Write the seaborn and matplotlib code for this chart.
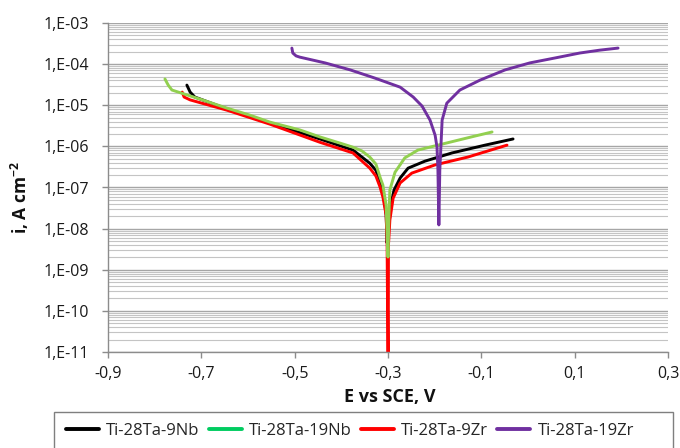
import numpy as np
import pandas as pd
import matplotlib
matplotlib.use("Agg")
import matplotlib.pyplot as plt
import seaborn as sns
from matplotlib.ticker import FixedLocator, FixedFormatter, LogLocator, NullFormatter
from matplotlib.lines import Line2D
from matplotlib.patches import Rectangle

# ---- data (current density stored as log10(i / A cm-2)) ----
series_names = ["Ti-28Ta-9Nb", "Ti-28Ta-19Nb", "Ti-28Ta-9Zr", "Ti-28Ta-19Zr"]

E_9Nb = [-0.731, -0.724, -0.714, -0.645, -0.553, -0.446, -0.375, -0.339, -0.326, -0.317,
         -0.309, -0.304, -0.302, -0.298, -0.294, -0.287, -0.274, -0.257, -0.221, -0.163,
         -0.092, -0.032]
logi_9Nb = [-4.51, -4.68, -4.80, -5.09, -5.43, -5.82, -6.09, -6.41, -6.58, -6.87,
            -7.18, -7.67, -8.35, -7.91, -7.43, -7.06, -6.77, -6.53, -6.36, -6.16,
            -5.97, -5.82]

E_19Nb = [-0.778, -0.771, -0.763, -0.703, -0.645, -0.596, -0.553, -0.489, -0.446, -0.403,
          -0.375, -0.356, -0.339, -0.326, -0.317, -0.311, -0.304, -0.300, -0.298, -0.296,
          -0.285, -0.264, -0.236, -0.193, -0.150, -0.114, -0.077]
logi_19Nb = [-4.36, -4.51, -4.63, -4.85, -5.07, -5.24, -5.41, -5.60, -5.77, -5.92,
             -6.02, -6.11, -6.26, -6.43, -6.75, -6.94, -7.43, -8.69, -7.67, -7.06,
             -6.63, -6.28, -6.09, -5.97, -5.85, -5.75, -5.65]

E_9Zr = [-0.741, -0.737, -0.724, -0.645, -0.553, -0.446, -0.375, -0.339, -0.326, -0.317,
         -0.311, -0.304, -0.302, -0.300, -0.2995, -0.299, -0.296, -0.289, -0.274, -0.249,
         -0.199, -0.129, -0.045]
logi_9Zr = [-4.68, -4.80, -4.87, -5.12, -5.46, -5.90, -6.16, -6.53, -6.72, -6.99,
            -7.23, -7.67, -8.28, -11.5, -11.5, -8.40, -7.79, -7.26, -6.89, -6.65,
            -6.45, -6.26, -5.97]

E_19Zr = [-0.506, -0.504, -0.497, -0.489, -0.435, -0.381, -0.328, -0.274, -0.246, -0.227,
          -0.210, -0.199, -0.195, -0.193, -0.191, -0.189, -0.186, -0.184, -0.174, -0.146,
          -0.103, -0.049, 0.004, 0.058, 0.111, 0.154, 0.193]
logi_19Zr = [-3.61, -3.73, -3.80, -3.83, -3.97, -4.14, -4.34, -4.56, -4.80, -5.02,
             -5.36, -5.73, -6.02, -6.58, -7.91, -6.58, -5.85, -5.36, -4.95, -4.63,
             -4.39, -4.14, -3.97, -3.85, -3.73, -3.66, -3.61]

x_ticks = [-0.9, -0.7, -0.5, -0.3, -0.1, 0.1, 0.3]
x_tick_labels = ["-0,9", "-0,7", "-0,5", "-0,3", "-0,1", "0,1", "0,3"]
y_ticks = [1e-11, 1e-10, 1e-9, 1e-8, 1e-7, 1e-6, 1e-5, 1e-4, 1e-3]
y_tick_labels = ["1,E-11", "1,E-10", "1,E-09", "1,E-08", "1,E-07", "1,E-06",
                 "1,E-05", "1,E-04", "1,E-03"]

line_colors = {"Ti-28Ta-9Nb": "#000000", "Ti-28Ta-19Nb": "#92D050",
               "Ti-28Ta-9Zr": "#FF0000", "Ti-28Ta-19Zr": "#7030A0"}
legend_colors = ["#000000", "#00CC60", "#FF0000", "#7030A0"]
draw_order = ["Ti-28Ta-9Nb", "Ti-28Ta-9Zr", "Ti-28Ta-19Nb", "Ti-28Ta-19Zr"]

# ---- build long table ----
frames = []
for name, E, li in zip(series_names,
                       [E_9Nb, E_19Nb, E_9Zr, E_19Zr],
                       [logi_9Nb, logi_19Nb, logi_9Zr, logi_19Zr]):
    frames.append(pd.DataFrame({"E": E, "i": np.power(10.0, li), "alloy": name}))
df = pd.concat(frames, ignore_index=True)

# ---- style ----
sns.set_style("white")
plt.rcParams["font.family"] = ["Open Sans", "DejaVu Sans"]
plt.rcParams["mathtext.default"] = "regular"

fig = plt.figure(figsize=(6.8, 4.48), dpi=100)
ax = fig.add_axes([108 / 680, 1 - 352 / 448, 560 / 680, 329 / 448])

sns.lineplot(data=df, x="E", y="i", hue="alloy", hue_order=draw_order,
             palette=line_colors, sort=False, estimator=None, legend=False,
             linewidth=2.1, ax=ax)

ax.set_yscale("log")
ax.set_xlim(-0.9, 0.3)
ax.set_ylim(1e-11, 1e-3)

ax.yaxis.set_major_locator(FixedLocator(y_ticks))
ax.yaxis.set_major_formatter(FixedFormatter(y_tick_labels))
ax.yaxis.set_minor_locator(LogLocator(base=10, subs=np.arange(2, 10), numticks=100))
ax.yaxis.set_minor_formatter(NullFormatter())
ax.set_xticks(x_ticks)
ax.set_xticklabels(x_tick_labels)

ax.grid(False)
ax.grid(True, which="major", axis="y", color="#a6a6a6", linewidth=1.0)
ax.grid(True, which="minor", axis="y", color="#c4c4c4", linewidth=0.8)
ax.set_axisbelow(True)

for s in ["top", "right"]:
    ax.spines[s].set_visible(False)
for s in ["left", "bottom"]:
    ax.spines[s].set_color("#8c8c8c")
    ax.spines[s].set_linewidth(1.0)

ax.tick_params(axis="y", which="major", direction="out", length=4.3, width=1,
               color="#8c8c8c", labelsize=11.5, labelcolor="#1a1a1a", pad=9.4, left=True)
ax.tick_params(axis="y", which="minor", length=0)
ax.tick_params(axis="x", which="major", direction="out", length=4.3, width=1,
               color="#8c8c8c", labelsize=11.5, labelcolor="#1a1a1a", pad=5.5, bottom=True)

ax.set_xlabel("E vs SCE, V", fontsize=13, fontweight="bold", color="#111111")
ax.set_ylabel(r"i, A cm$^{-2}$", fontsize=12.5, fontweight="bold", color="#111111")
ax.xaxis.set_label_coords((390 - 108) / 560, (352 - 388) / 329)
ax.yaxis.set_label_coords((31 - 108) / 560, (352 - 198) / 329)

# ---- legend ----
handles = [Line2D([0], [0], color=c, linewidth=2.8) for c in legend_colors]
fig.legend(handles, series_names, loc="center left", ncol=4,
           bbox_to_anchor=(66 / 680, 1 - 431 / 448), frameon=False,
           fontsize=12, handlelength=2.0, handletextpad=0.42, columnspacing=0.54,
           borderaxespad=0, borderpad=0)
fig.patches.append(Rectangle((54 / 680, -0.05), (673 - 54) / 680, 0.05 + (448 - 412) / 448,
                             transform=fig.transFigure, fill=False,
                             edgecolor="#7f7f7f", linewidth=1.0))

fig.savefig("out.png", dpi=100)
